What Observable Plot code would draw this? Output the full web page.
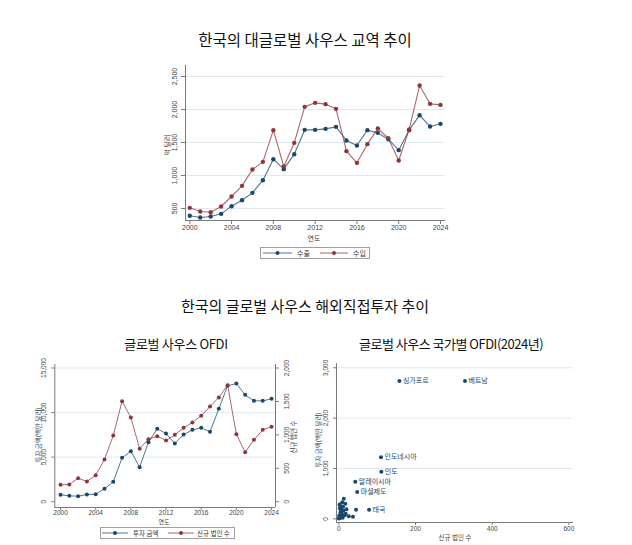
<!DOCTYPE html>
<html><head><meta charset="utf-8">
<script src="https://cdn.jsdelivr.net/npm/d3@7"></script>
<script src="https://cdn.jsdelivr.net/npm/@observablehq/plot@0.6"></script>
<style>
body{margin:0;background:#fff;}
#wrap{position:relative;width:632px;height:545px;overflow:hidden;font-family:"Noto Sans CJK KR","Liberation Sans",sans-serif;color:#111;}
.abs{position:absolute;white-space:nowrap;line-height:1;}
.c{transform:translate(-50%,-50%);}
.v{transform:translate(-50%,-50%) rotate(-90deg);}
.box{position:absolute;}
.box svg{overflow:visible;}
</style></head><body><div id="wrap"></div>
<script>
// ---------- data ----------
const years = [2000,2001,2002,2003,2004,2005,2006,2007,2008,2009,2010,2011,2012,2013,2014,2015,2016,2017,2018,2019,2020,2021,2022,2023,2024];
const exportsVal = [390,364,379,419,535,626,737,929,1247,1096,1323,1692,1692,1707,1737,1530,1454,1687,1646,1550,1384,1687,1914,1742,1783];
const importsVal = [510,455,444,530,682,843,1091,1207,1687,1136,1495,2040,2101,2081,2010,1369,1192,1475,1712,1566,1227,1697,2363,2086,2070];
const yearTicks = [2000,2004,2008,2012,2016,2020,2024];
const tradeTicks = [500,1000,1500,2000,2500];

const ofdiAmount = [771,658,621,808,845,1444,2229,4921,5669,3874,6679,8175,7651,6529,7539,8063,8287,7838,10419,12999,13261,11990,11316,11316,11541];
const ofdiCount = [252,257,352,302,397,631,990,1504,1260,791,935,980,916,1000,1105,1185,1285,1424,1559,1743,1010,741,926,1075,1120];
const amountTicks = [0,5000,10000,15000];
const countTicks = [0,500,1000,1500,2000];

const countryNames = ["싱가포르","베트남","인도네시아","인도","말레이시아","마셜제도","태국"];
const countryCounts = [158,329,110,111,43,48,79];
const countryAmounts = [2738,2738,1223,937,738,532,179];
const otherCounts = [13,2,17,9,5,3,7,12,20,45,26,37,4,8,1,5,10,15,2,18,6,0,3,11];
const otherAmounts = [400,285,300,330,250,200,180,160,190,180,50,40,120,90,60,30,20,70,10,100,140,5,220,240];
const scatterXTicks = [0,200,400,600];
const scatterYTicks = [0,1000,2000,3000];

// ---------- helpers ----------
const BLUE = "#1a476f", RED = "#90353b", GRID = "#e1ebef", AX = "#7a7a7a", TXT = "#444";
const numFont = "'Liberation Sans','Noto Sans CJK KR',sans-serif";
const wrap = document.getElementById("wrap");
function label(txt, x, y, size, cls, extra) {
  const d = document.createElement("div");
  d.className = "abs " + cls;
  d.style.left = x + "px"; d.style.top = y + "px"; d.style.fontSize = size + "px";
  if (extra) Object.assign(d.style, extra);
  d.textContent = txt;
  wrap.appendChild(d);
}
function place(el, left, top) {
  const b = document.createElement("div");
  b.className = "box"; b.style.left = left + "px"; b.style.top = top + "px";
  b.appendChild(el); wrap.appendChild(b);
}
const fmt = d3.format(",");
const baseStyle = {fontFamily: numFont, background: "transparent", color: TXT, overflow: "visible"};

// ---------- chart 1: trade ----------
const tradeRows = years.map((y, i) => ({year: y, exp: exportsVal[i], imp: importsVal[i]}));
const tx0 = 1999.59, ty0 = 318;
const c1 = Plot.plot({
  width: 320, height: 190, marginLeft: 45, marginRight: 15, marginTop: 10, marginBottom: 25,
  style: {...baseStyle, fontSize: "7px"},
  x: {domain: [tx0, 2024.48], label: null},
  y: {domain: [ty0, 2667], label: null},
  marks: [
    Plot.gridY(tradeTicks, {stroke: GRID, strokeOpacity: 1}),
    Plot.ruleX([tx0], {stroke: AX}),
    Plot.ruleY([ty0], {stroke: AX}),
    Plot.axisX({ticks: yearTicks, tickFormat: d => String(d), tickSize: 4, tickPadding: 1, stroke: AX, fontSize: 7, fill: TXT}),
    Plot.axisY({ticks: tradeTicks, tickFormat: fmt, tickSize: 4, tickRotate: -90, stroke: AX, fontSize: 7, fill: TXT}),
    Plot.line(tradeRows, {x: "year", y: "exp", stroke: BLUE, strokeWidth: 1.1, strokeOpacity: 0.75}),
    Plot.line(tradeRows, {x: "year", y: "imp", stroke: RED, strokeWidth: 1.1, strokeOpacity: 0.75}),
    Plot.dot(tradeRows, {x: "year", y: "exp", r: 2.2, fill: BLUE}),
    Plot.dot(tradeRows, {x: "year", y: "imp", r: 2.2, fill: RED})
  ]
});
place(c1, 140, 55);

// ---------- chart 2: OFDI dual axis ----------
const K = 15000 / 2000;
const ofdiRows = years.map((y, i) => ({year: y, amt: ofdiAmount[i], cnt: ofdiCount[i] * K}));
const ox0 = 1999.35, oy0 = -651;
const c2 = Plot.plot({
  width: 320, height: 175, marginLeft: 54.3, marginRight: 45, marginTop: 14, marginBottom: 18,
  style: {...baseStyle, fontSize: "6.5px"},
  x: {domain: [ox0, 2024.45], label: null},
  y: {domain: [oy0, 15393], label: null},
  marks: [
    Plot.gridY(amountTicks.filter(d => d > 0), {stroke: GRID, strokeOpacity: 1}),
    Plot.ruleX([ox0], {stroke: AX}),
    Plot.ruleX([2024.45], {stroke: AX}),
    Plot.ruleY([oy0], {stroke: AX}),
    Plot.axisX({ticks: yearTicks, tickFormat: d => String(d), tickSize: 3, tickPadding: 0, stroke: AX, fontSize: 6.5, fill: TXT}),
    Plot.axisY({ticks: amountTicks, tickFormat: fmt, tickSize: 3, tickRotate: -90, stroke: AX, fontSize: 6.5, fill: TXT}),
    Plot.axisY({anchor: "right", ticks: countTicks.map(d => d * K), tickFormat: d => fmt(Math.round(d / K)), tickSize: 3, tickRotate: -90, lineAnchor: "top", stroke: AX, fontSize: 6.5, fill: TXT}),
    Plot.line(ofdiRows, {x: "year", y: "amt", stroke: BLUE, strokeWidth: 1, strokeOpacity: 0.75}),
    Plot.line(ofdiRows, {x: "year", y: "cnt", stroke: RED, strokeWidth: 1, strokeOpacity: 0.75}),
    Plot.dot(ofdiRows, {x: "year", y: "amt", r: 2, fill: BLUE}),
    Plot.dot(ofdiRows, {x: "year", y: "cnt", r: 2, fill: RED})
  ]
});
place(c2, 0, 350);

// ---------- chart 3: scatter ----------
const labeled = countryNames.map((n, i) => ({name: n, cnt: countryCounts[i], amt: countryAmounts[i]}));
const others = otherCounts.map((c, i) => ({cnt: c, amt: otherAmounts[i]}));
const sx0 = -6, sy0 = -73;
const c3 = Plot.plot({
  width: 300, height: 185, marginLeft: 26, marginRight: 37, marginTop: 8, marginBottom: 18,
  style: {...baseStyle, fontSize: "6.5px"},
  x: {domain: [sx0, 612], label: null},
  y: {domain: [sy0, 3085], label: null},
  marks: [
    Plot.gridY(scatterYTicks.filter(d => d > 0), {stroke: GRID, strokeOpacity: 1}),
    Plot.ruleX([sx0], {stroke: AX}),
    Plot.ruleY([sy0], {stroke: AX}),
    Plot.axisX({ticks: scatterXTicks, tickFormat: d => String(d), tickSize: 3, tickPadding: 1, stroke: AX, fontSize: 6.5, fill: TXT}),
    Plot.axisY({ticks: scatterYTicks, tickFormat: fmt, tickSize: 3, tickRotate: -90, stroke: AX, fontSize: 6.5, fill: TXT}),
    Plot.dot(others, {x: "cnt", y: "amt", r: 2, fill: BLUE}),
    Plot.dot(labeled, {x: "cnt", y: "amt", r: 2, fill: BLUE}),
    Plot.text(labeled, {x: "cnt", y: "amt", text: "name", textAnchor: "start", dx: 3.5, fill: BLUE, fontSize: 7, fontFamily: "'Noto Sans CJK KR',sans-serif"})
  ]
});
place(c3, 310, 355);

// ---------- titles & axis titles ----------
label("한국의 대글로벌 사우스 교역 추이", 305, 40, 15.5, "c");
label("한국의 글로벌 사우스 해외직접투자 추이", 305, 305, 15, "c");
label("글로벌 사우스 OFDI", 176, 343, 13, "c", {letterSpacing: "-0.3px"});
label("글로벌 사우스 국가별 OFDI(2024년)", 451, 343, 13, "c", {letterSpacing: "-0.5px"});

label("연도", 314, 238, 7, "c", {color: TXT});
label("억 달러", 167, 145, 7, "v", {color: TXT});
label("연도", 164, 521.5, 6, "c", {color: TXT});
label("투자 금액(백만 달러)", 38, 435, 6.5, "v", {color: TXT});
label("신규 법인 수", 293, 437, 6.5, "v", {color: TXT});
label("투자 금액(백만 달러)", 318, 440, 6.5, "v", {color: TXT});
label("신규 법인 수", 455, 537, 6.5, "c", {color: TXT});

// ---------- legends ----------
function legend(left, top, w, h, items) {
  const ns = "http://www.w3.org/2000/svg";
  const svg = document.createElementNS(ns, "svg");
  svg.setAttribute("width", w); svg.setAttribute("height", h);
  svg.style.position = "absolute"; svg.style.left = left + "px"; svg.style.top = top + "px";
  const r = document.createElementNS(ns, "rect");
  Object.entries({x: 0.5, y: 0.5, width: w - 1, height: h - 1, fill: "#fff", stroke: "#888", "stroke-width": 0.8}).forEach(([k, v]) => r.setAttribute(k, v));
  svg.appendChild(r);
  items.forEach(it => {
    const l = document.createElementNS(ns, "line");
    Object.entries({x1: it.x1, x2: it.x2, y1: h / 2, y2: h / 2, stroke: it.color, "stroke-width": 1, "stroke-opacity": 0.75}).forEach(([k, v]) => l.setAttribute(k, v));
    svg.appendChild(l);
    const c = document.createElementNS(ns, "circle");
    Object.entries({cx: (it.x1 + it.x2) / 2, cy: h / 2, r: 2, fill: it.color}).forEach(([k, v]) => c.setAttribute(k, v));
    svg.appendChild(c);
    const t = document.createElementNS(ns, "text");
    Object.entries({x: it.tx, y: h / 2, "dominant-baseline": "central", "font-size": it.fs, fill: "#333", "font-family": "'Noto Sans CJK KR',sans-serif"}).forEach(([k, v]) => t.setAttribute(k, v));
    t.textContent = it.text;
    svg.appendChild(t);
  });
  wrap.appendChild(svg);
}
legend(260, 247, 110, 12, [
  {x1: 3, x2: 32, color: BLUE, tx: 37, text: "수출", fs: 7},
  {x1: 60, x2: 88, color: RED, tx: 93, text: "수입", fs: 7}
]);
legend(100, 527, 135, 12, [
  {x1: 2, x2: 28, color: BLUE, tx: 33, text: "투자 금액", fs: 6.5},
  {x1: 68, x2: 94, color: RED, tx: 97, text: "신규 법인 수", fs: 6.5}
]);
</script></body></html>
